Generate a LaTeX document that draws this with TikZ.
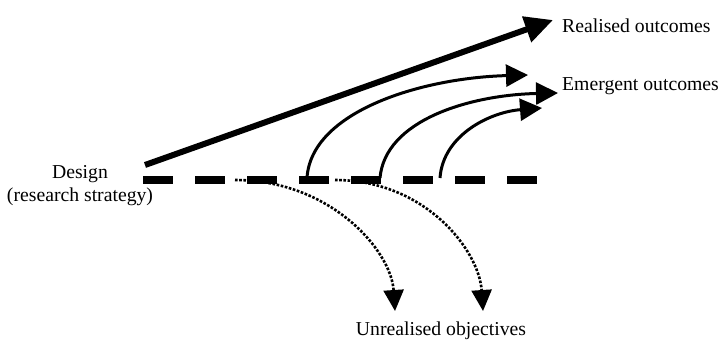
\documentclass[tikz,border=0pt]{standalone}
\usepackage{fontspec}
\setmainfont{Liberation Serif}
\usepackage{tikz}
\usetikzlibrary{arrows.meta}

\begin{document}
\begin{tikzpicture}[
    x=1pt, y=-1pt,
    label/.style={inner sep=0pt, align=center, font=\fontsize{19.7}{23}\selectfont},
    planline/.style={line width=8pt, dash pattern=on 30pt off 22pt},
    realarrow/.style={line width=6pt, -{Triangle[length=28pt,width=26pt]}},
    emarrow/.style={line width=3pt, -{Triangle[length=22pt,width=22pt]}},
    lostarrow/.style={line width=2.6pt, dash pattern=on 2.6pt off 1.6pt,
                      -{Triangle[length=21pt,width=20pt,sep=0pt]}},
  ]
    \useasboundingbox (0,0) rectangle (719,345);

    % labels
    \node[label] (design) at (80,186) {Design\\(research strategy)};
    \node[label, anchor=west] (real) at (562,26) {Realised outcomes};
    \node[label, anchor=west] (emerg) at (562,86) {Emergent outcomes};
    \node[label] (unreal) at (441,331) {Unrealised objectives};

    % end points
    \coordinate (dstart) at (143,180);
    \coordinate (dend) at (538,180);
    \coordinate (rstart) at (145,165);
    \coordinate (rtip) at (553,20);
    \coordinate (ea) at (307,178);
    \coordinate (eb) at (380,178);
    \coordinate (ec) at (440,178);
    \coordinate (eatip) at (528,75);
    \coordinate (ebtip) at (558,93);
    \coordinate (ectip) at (542,108);
    \coordinate (ua) at (235,180);
    \coordinate (ub) at (335,180);
    \coordinate (uatip) at (395,311);
    \coordinate (ubtip) at (483,311);

    % unrealised (dotted) paths, under the plan line
    \draw[lostarrow] (ua) .. controls (330,180) and (391,250) .. (uatip);
    \draw[lostarrow] (ub) .. controls (425,180) and (479,250) .. (ubtip);

    % plan line
    \draw[planline] (dstart) -- (dend);

    % realised outcome
    \draw[realarrow] (rstart) -- (rtip);

    % emergent outcomes
    \draw[emarrow] (ea) .. controls (311,112) and (420,78) .. (eatip);
    \draw[emarrow] (eb) .. controls (385,120) and (470,95) .. (ebtip);
    \draw[emarrow] (ec) .. controls (443,135) and (490,112) .. (ectip);
  \end{tikzpicture}
\end{document}
